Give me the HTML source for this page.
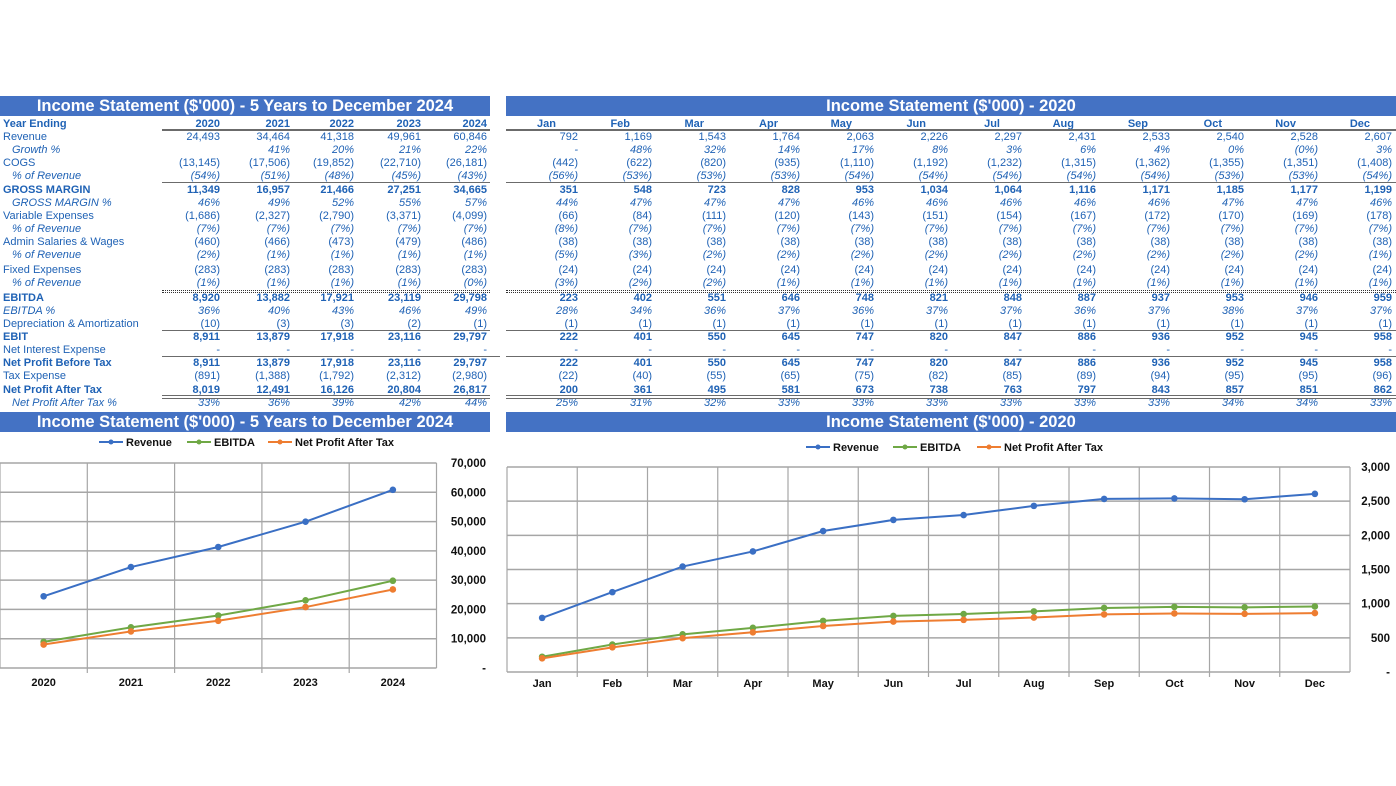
<!DOCTYPE html>
<html><head><meta charset="utf-8">
<style>
html,body{margin:0;padding:0;background:#fff;}
body{width:1396px;height:786px;position:relative;overflow:hidden;font-family:"Liberation Sans",sans-serif;}
.bar{position:absolute;background:#4472C4;color:#fff;font-weight:bold;font-size:16.5px;text-align:center;line-height:20px;height:20px;}
.c{position:absolute;font-size:11px;color:#1F62B5;white-space:nowrap;line-height:13px;}
.r{text-align:right;}
.b{font-weight:bold;}
.i{font-style:italic;}
.ln{position:absolute;height:0;}
svg{position:absolute;left:0;top:0;}
</style></head>
<body>
<div class="bar" style="left:0;top:96px;width:490px;">Income Statement ($'000) - 5 Years to December 2024</div>
<div class="bar" style="left:506px;top:96px;width:890px;">Income Statement ($'000) - 2020</div>
<div class="bar" style="left:0;top:412px;width:490px;">Income Statement ($'000) - 5 Years to December 2024</div>
<div class="bar" style="left:506px;top:412px;width:890px;">Income Statement ($'000) - 2020</div>
<div id="tables"></div>
<svg id="charts" width="1396" height="786"></svg>
<script>
const rowLabels=["Revenue","Growth %","COGS","% of Revenue","GROSS MARGIN","GROSS MARGIN %","Variable Expenses","% of Revenue","Admin Salaries & Wages","% of Revenue","Fixed Expenses","% of Revenue","EBITDA","EBITDA %","Depreciation & Amortization","EBIT","Net Interest Expense","Net Profit Before Tax","Tax Expense","Net Profit After Tax","Net Profit After Tax %"];
const rowStyle=["n","ii","n","ii","b","ii","n","ii","n","ii","n","ii","b","i","n","b","n","b","n","b","ii"];
const rowY=[136,149,162,175,189,202,215,228,241,254,269,282,297,310,323,336,349,362,375,389,402];
const years=["2020","2021","2022","2023","2024"];
const annual=[
["24,493","34,464","41,318","49,961","60,846"],
["","41%","20%","21%","22%"],
["(13,145)","(17,506)","(19,852)","(22,710)","(26,181)"],
["(54%)","(51%)","(48%)","(45%)","(43%)"],
["11,349","16,957","21,466","27,251","34,665"],
["46%","49%","52%","55%","57%"],
["(1,686)","(2,327)","(2,790)","(3,371)","(4,099)"],
["(7%)","(7%)","(7%)","(7%)","(7%)"],
["(460)","(466)","(473)","(479)","(486)"],
["(2%)","(1%)","(1%)","(1%)","(1%)"],
["(283)","(283)","(283)","(283)","(283)"],
["(1%)","(1%)","(1%)","(1%)","(0%)"],
["8,920","13,882","17,921","23,119","29,798"],
["36%","40%","43%","46%","49%"],
["(10)","(3)","(3)","(2)","(1)"],
["8,911","13,879","17,918","23,116","29,797"],
["-","-","-","-","-"],
["8,911","13,879","17,918","23,116","29,797"],
["(891)","(1,388)","(1,792)","(2,312)","(2,980)"],
["8,019","12,491","16,126","20,804","26,817"],
["33%","36%","39%","42%","44%"]];
const months=["Jan","Feb","Mar","Apr","May","Jun","Jul","Aug","Sep","Oct","Nov","Dec"];
const monthly=[
["792","1,169","1,543","1,764","2,063","2,226","2,297","2,431","2,533","2,540","2,528","2,607"],
["-","48%","32%","14%","17%","8%","3%","6%","4%","0%","(0%)","3%"],
["(442)","(622)","(820)","(935)","(1,110)","(1,192)","(1,232)","(1,315)","(1,362)","(1,355)","(1,351)","(1,408)"],
["(56%)","(53%)","(53%)","(53%)","(54%)","(54%)","(54%)","(54%)","(54%)","(53%)","(53%)","(54%)"],
["351","548","723","828","953","1,034","1,064","1,116","1,171","1,185","1,177","1,199"],
["44%","47%","47%","47%","46%","46%","46%","46%","46%","47%","47%","46%"],
["(66)","(84)","(111)","(120)","(143)","(151)","(154)","(167)","(172)","(170)","(169)","(178)"],
["(8%)","(7%)","(7%)","(7%)","(7%)","(7%)","(7%)","(7%)","(7%)","(7%)","(7%)","(7%)"],
["(38)","(38)","(38)","(38)","(38)","(38)","(38)","(38)","(38)","(38)","(38)","(38)"],
["(5%)","(3%)","(2%)","(2%)","(2%)","(2%)","(2%)","(2%)","(2%)","(2%)","(2%)","(1%)"],
["(24)","(24)","(24)","(24)","(24)","(24)","(24)","(24)","(24)","(24)","(24)","(24)"],
["(3%)","(2%)","(2%)","(1%)","(1%)","(1%)","(1%)","(1%)","(1%)","(1%)","(1%)","(1%)"],
["223","402","551","646","748","821","848","887","937","953","946","959"],
["28%","34%","36%","37%","36%","37%","37%","36%","37%","38%","37%","37%"],
["(1)","(1)","(1)","(1)","(1)","(1)","(1)","(1)","(1)","(1)","(1)","(1)"],
["222","401","550","645","747","820","847","886","936","952","945","958"],
["-","-","-","-","-","-","-","-","-","-","-","-"],
["222","401","550","645","747","820","847","886","936","952","945","958"],
["(22)","(40)","(55)","(65)","(75)","(82)","(85)","(89)","(94)","(95)","(95)","(96)"],
["200","361","495","581","673","738","763","797","843","857","851","862"],
["25%","31%","32%","33%","33%","33%","33%","33%","33%","34%","34%","33%"]];
// chart data
const annualRevenue=[24493,34464,41318,49961,60846];
const annualEbitda=[8920,13882,17921,23119,29798];
const annualNpat=[8019,12491,16126,20804,26817];
const annualTicks=[0,10000,20000,30000,40000,50000,60000,70000];
const annualTickLabels=["-","10,000","20,000","30,000","40,000","50,000","60,000","70,000"];
const monthRevenue=[792,1169,1543,1764,2063,2226,2297,2431,2533,2540,2528,2607];
const monthEbitda=[223,402,551,646,748,821,848,887,937,953,946,959];
const monthNpat=[200,361,495,581,673,738,763,797,843,857,851,862];
const monthTicks=[0,500,1000,1500,2000,2500,3000];
const monthTickLabels=["-","500","1,000","1,500","2,000","2,500","3,000"];

const T=document.getElementById('tables');
function cell(txt,x,y,cls,w,name){
  const d=document.createElement('div');
  d.className='c '+cls;
  d.style.top=(y-5.5)+'px';
  if(w){d.style.left=(x-w)+'px';d.style.width=w+'px';}else{d.style.left=x+'px';}
  d.textContent=txt;
  
  
  T.appendChild(d);
}
function line(x1,x2,y,style,name){
  const d=document.createElement('div');
  d.className='ln';
  d.style.left=x1+'px';d.style.width=(x2-x1)+'px';d.style.top=y+'px';d.style.borderTop=style;
  
  
  T.appendChild(d);
}
const aX=[220,290,354,421,487];
const mX=months.map((m,i)=>578+74*i);
cell("Year Ending",3,123,'b',0,'year-ending-header');
years.forEach((y,i)=>cell(y,aX[i],123,'r b',60,'year-header-'+y));
months.forEach((m,i)=>cell(m,mX[i]-22,123,'r b',40,'month-header-'+m.toLowerCase()));
rowLabels.forEach((l,r)=>{
  const s=rowStyle[r];
  const cls=s==='b'?'b':(s==='n'?'':'i');
  const lx=s==='ii'?12:3;
  cell(l,lx,rowY[r],cls,0,'row-label-'+r);
  const vcls='r '+cls;
  annual[r].forEach((v,i)=>cell(v,aX[i],rowY[r],vcls,70,'annual-value-'+r+'-'+i));
  monthly[r].forEach((v,i)=>cell(v,mX[i],rowY[r],vcls,70,'monthly-value-'+r+'-'+i));
});
[[162,490],[506,1396]].forEach((p,k)=>{
  line(p[0],p[1],129,'2px solid #6b6b6b','header-rule-'+k);
  line(p[0],p[1],182,'1.5px solid #6b6b6b','gm-rule-'+k);
  line(p[0],p[1],290,'1px dotted #333','ebitda-rule-a-'+k);
  line(p[0],p[1],292,'1px dotted #333','ebitda-rule-b-'+k);
  line(p[0],p[1],329.5,'1.5px solid #6b6b6b','ebit-rule-'+k);
  line(p[0],k?1396:500,355.5,'1.5px solid #6b6b6b','npbt-rule-'+k);
  line(p[0],p[1],395,'1.5px solid #6b6b6b','npat-rule-a-'+k);
  line(p[0],p[1],397.5,'1.5px solid #6b6b6b','npat-rule-b-'+k);
});

const S=document.getElementById('charts');
const NS='http://www.w3.org/2000/svg';
function el(tag,attrs){const e=document.createElementNS(NS,tag);for(const k in attrs)e.setAttribute(k,attrs[k]);S.appendChild(e);return e;}
function txt(t,x,y,anchor,size){const e=el('text',{x:x,y:y,'text-anchor':anchor,'font-family':'Liberation Sans, sans-serif','font-size':size,'font-weight':'bold',fill:'#111'});e.textContent=t;return e;}
const colors={rev:'#3A6FC4',ebitda:'#6FA845',npat:'#EE7D31'};
function chart(o){
  const ys=v=>o.y0-(v-o.tmin)/(o.tmax-o.tmin)*(o.y0-o.y1);
  const xs=i=>o.x0+(i+0.5)*o.step;
  o.ticks.forEach((t,i)=>{
    const g=el('line',{x1:o.x0,x2:o.x0+o.step*o.cats.length,y1:ys(t),y2:ys(t),stroke:'#a6a6a6','stroke-width':1.5});
    
    
    const l=txt(o.tickLabels[i],o.labX,ys(t)+4,'end',11.5);
    
    
  });
  for(let i=0;i<=o.cats.length;i++){
    const g=el('line',{x1:o.x0+i*o.step,x2:o.x0+i*o.step,y1:o.y1,y2:o.y0+(i>0&&i<o.cats.length?5:0),stroke:'#a6a6a6','stroke-width':1.2});
    
    
  }
  o.cats.forEach((c,i)=>{
    const l=txt(c,xs(i),o.xlabY,'middle',11);
    
    
  });
  o.series.forEach(s=>{
    const p=el('polyline',{points:s.vals.map((v,i)=>xs(i)+','+ys(v)).join(' '),fill:'none',stroke:s.color,'stroke-width':2});
    
    
    s.vals.forEach((v,i)=>{
      const m=el('circle',{cx:xs(i),cy:ys(v),r:3.3,fill:s.color});
      
      
    });
  });
  o.series.forEach((s,k)=>{
    const lx=o.legX[k];
    const l=el('line',{x1:lx,x2:lx+24,y1:o.legY,y2:o.legY,stroke:s.color,'stroke-width':2});
    
    
    const c=el('circle',{cx:lx+12,cy:o.legY,r:2.5,fill:s.color});
    
    
    const t=txt(s.name,lx+27,o.legY+4,'start',11);
    
    
  });
}
chart({id:'annual-chart',cats:years,x0:0,step:87.3,y0:668,y1:463,tmin:0,tmax:70000,ticks:annualTicks,tickLabels:annualTickLabels,labX:486,legX:[99,187,268],legY:442,xlabY:686,
  series:[{key:'revenue',name:'Revenue',vals:annualRevenue,color:colors.rev},{key:'ebitda',name:'EBITDA',vals:annualEbitda,color:colors.ebitda},{key:'npat',name:'Net Profit After Tax',vals:annualNpat,color:colors.npat}]});
chart({id:'monthly-chart',cats:months,x0:507,step:70.25,y0:672,y1:467,tmin:0,tmax:3000,ticks:monthTicks,tickLabels:monthTickLabels,labX:1390,legX:[806,893,977],legY:447,xlabY:687,
  series:[{key:'revenue',name:'Revenue',vals:monthRevenue,color:colors.rev},{key:'ebitda',name:'EBITDA',vals:monthEbitda,color:colors.ebitda},{key:'npat',name:'Net Profit After Tax',vals:monthNpat,color:colors.npat}]});
</script>
</body></html>
